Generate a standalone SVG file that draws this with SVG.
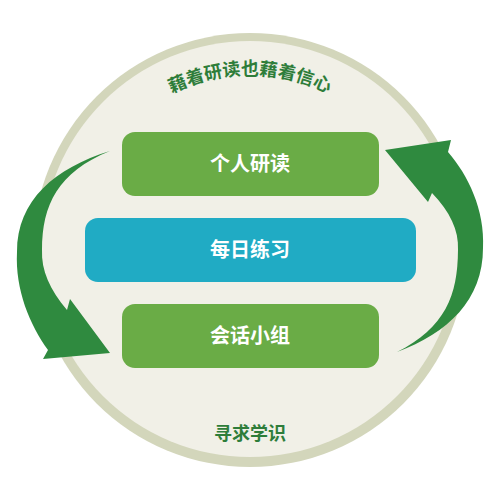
<svg xmlns="http://www.w3.org/2000/svg" width="500" height="500" viewBox="0 0 500 500">
  <style>
    .box-green { fill: #6aac46; }
    .box-blue { fill: #20abc4; }
    .label { font-family: "Noto Sans CJK SC", "Noto Sans", sans-serif; font-weight: 700; font-size: 20px; fill: #ffffff; text-anchor: middle; }
    .outer-label { font-family: "Noto Sans CJK SC", "Noto Sans", sans-serif; font-weight: 700; font-size: 18px; fill: #2e7d3a; }
    .arrow { fill: #2f8a3f; }
  </style>
  <defs>
    <path id="arc" d="M 75,250 A 175,175 0 0 1 425,250"/>
  </defs>
  <g id="background">
    <circle cx="250" cy="250" r="217" fill="#d3d6bb"/>
    <circle cx="250" cy="249" r="208" fill="#f1f0e7"/>
  </g>
  <g id="connectors">
    <path class="arrow" d="M110,151 C55,168 17,200 17,252 C15,290 30,325 48,350 L43,359 L110,353 L70,299 L67,310 C50,290 41,270 42,250 C42,205 58,172 110,151 Z"/>
    <path class="arrow" d="M397,352 C448,333 483,300 483,248 C485,210 468,175 448,152 L451,140 L385,150 L428,202 L432,193 C450,212 459,230 458,250 C458,295 445,328 397,352 Z"/>
  </g>
  <g id="top-label">
    <text class="outer-label"><textPath href="#arc" startOffset="50%" text-anchor="middle">藉着研读也藉着信心</textPath></text>
  </g>
  <g id="node-personal">
    <rect class="box-green" x="122" y="132" width="257" height="64" rx="13"/>
    <text class="label" x="250" y="171">个人研读</text>
  </g>
  <g id="node-daily">
    <rect class="box-blue" x="85" y="218" width="331" height="64" rx="13"/>
    <text class="label" x="250" y="257">每日练习</text>
  </g>
  <g id="node-group">
    <rect class="box-green" x="122" y="304" width="257" height="64" rx="13"/>
    <text class="label" x="250" y="343">会话小组</text>
  </g>
  <g id="bottom-label">
    <text class="outer-label" x="250" y="440" text-anchor="middle">寻求学识</text>
  </g>
</svg>
